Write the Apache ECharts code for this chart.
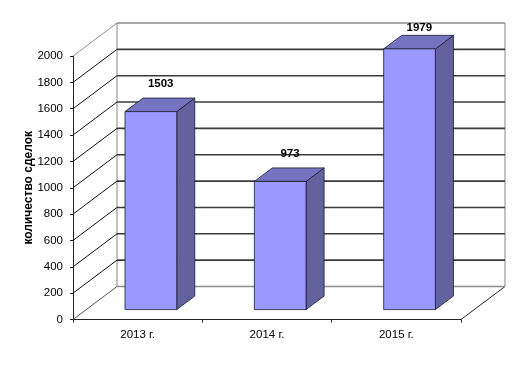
<!DOCTYPE html>
<html><head><meta charset="utf-8">
<script src="https://cdn.jsdelivr.net/npm/echarts@6/dist/echarts.min.js"></script>
<style>html,body{margin:0;padding:0;background:#fff}#c{width:523px;height:365px}</style>
</head><body><div id="c"></div>
<script>
var categories = ['2013 г.', '2014 г.', '2015 г.'];
var deals = [1503, 973, 1979];
var yTicks = [0, 200, 400, 600, 800, 1000, 1200, 1400, 1600, 1800, 2000];
var axisTitle = 'количество сделок';

var DX = 44, DY = -33;           // 3D depth offset
var FRONT = 0.3, BACK = 0.71;    // bar depth placement
var BARW = 0.4;                  // bar width as fraction of category
var FONT = '"Liberation Sans", Arial, sans-serif';

var chart = echarts.init(document.getElementById('c'), null, {renderer: 'canvas'});

function wallItem(params, api) {
  var cs = params.coordSys;
  var v = api.value(1);
  var y = api.coord([0, v])[1];
  var xl = cs.x, xr = cs.x + cs.width;
  var top = cs.y, bot = cs.y + cs.height;
  var isTop = v === yTicks[yTicks.length - 1];
  var isZero = v === 0;
  var children = [];
  var backColor = (isTop || isZero) ? '#8c8c8c' : '#3a3a3a';
  var leftColor = isTop ? '#8c8c8c' : (isZero ? '#555' : '#111');
  if (params.dataIndex === 0) {
    children.push({type: 'rect', shape: {x: xl + DX, y: top + DY, width: cs.width, height: cs.height}, style: {fill: '#fff'}, silent: true});
    children.push({type: 'line', shape: {x1: xl + DX, y1: top + DY, x2: xl + DX, y2: bot + DY}, style: {stroke: '#9a9a9a', lineWidth: 1.2}});
    children.push({type: 'line', shape: {x1: xr + DX, y1: top + DY, x2: xr + DX, y2: bot + DY}, style: {stroke: '#9a9a9a', lineWidth: 1.2}});
    children.push({type: 'line', shape: {x1: xr, y1: bot, x2: xr + DX, y2: bot + DY}, style: {stroke: '#222', lineWidth: 1}});
  }
  children.push({type: 'line', shape: {x1: xl, y1: y, x2: xl + DX, y2: y + DY}, style: {stroke: leftColor, lineWidth: 1}});
  children.push({type: 'line', shape: {x1: xl + DX, y1: y + DY, x2: xr + DX, y2: y + DY}, style: {stroke: backColor, lineWidth: 1.6}});
  return {type: 'group', children: children};
}

function barItem(params, api) {
  var cs = params.coordSys;
  var i = api.value(0), v = api.value(1);
  var base = api.coord([i, 0]);
  var topP = api.coord([i, v]);
  var cx = base[0], y0 = base[1], y1 = topP[1];
  var bw = api.size([1, 0])[0] * BARW;
  var xl = cx - bw / 2, xr = cx + bw / 2;
  var fx = FRONT * DX, fy = FRONT * DY, bx = BACK * DX, by = BACK * DY;
  var edge = {stroke: '#1a1a2e', lineWidth: 0.8};
  var labelY = Math.max(y1 + 0.5 * DY - 21, cs.y + DY + 5);
  return {type: 'group', children: [
    {type: 'polygon', shape: {points: [[xr + fx, y1 + fy], [xr + bx, y1 + by], [xr + bx, y0 + by], [xr + fx, y0 + fy]]},
      style: Object.assign({fill: '#62629e'}, edge)},
    {type: 'polygon', shape: {points: [[xl + fx, y1 + fy], [xr + fx, y1 + fy], [xr + bx, y1 + by], [xl + bx, y1 + by]]},
      style: Object.assign({fill: '#7474c0'}, edge)},
    {type: 'rect', shape: {x: xl + fx, y: y1 + fy, width: bw, height: y0 - y1},
      style: Object.assign({fill: '#9999ff'}, edge)},
    {type: 'text', x: cx + 0.5 * DX + 1, y: labelY,
      style: {text: String(v), fill: '#000', font: 'bold 11.5px ' + FONT, align: 'center', verticalAlign: 'middle'}}
  ]};
}

chart.setOption({
  animation: false,
  backgroundColor: '#fff',
  grid: {left: 73, right: 62, top: 56, bottom: 45.5},
  xAxis: {
    type: 'category', data: categories, boundaryGap: true,
    axisLine: {lineStyle: {color: '#222', width: 1}},
    axisTick: {show: true, length: 3, lineStyle: {color: '#222'}},
    axisLabel: {color: '#000', fontSize: 11.5, fontFamily: FONT, margin: 9},
    splitLine: {show: false}
  },
  yAxis: {
    type: 'value', min: 0, max: 2000, interval: 200,
    name: axisTitle, nameLocation: 'middle', nameGap: 38, nameRotate: 90,
    nameMoveOverlap: false,
    nameTextStyle: {color: '#000', fontSize: 12, fontWeight: 'bold', fontFamily: FONT},
    axisLine: {show: true, lineStyle: {color: '#222', width: 1}},
    axisTick: {show: true, length: 3, lineStyle: {color: '#222'}},
    axisLabel: {color: '#000', fontSize: 11.5, fontFamily: FONT, margin: 10,
      formatter: function (val) { return String(val); }},
    splitLine: {show: false}
  },
  series: [
    {type: 'custom', z: 1, clip: false, silent: true, renderItem: wallItem,
      encode: {x: 0, y: 1}, data: yTicks.map(function (t) { return [0, t]; })},
    {type: 'custom', z: 3, clip: false, silent: true, renderItem: barItem,
      encode: {x: 0, y: 1}, data: deals.map(function (d, i) { return [i, d]; })}
  ]
});
</script></body></html>
